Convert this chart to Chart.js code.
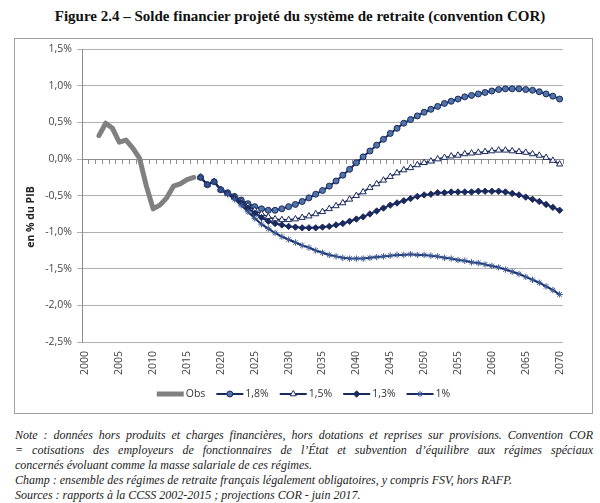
<!DOCTYPE html>
<html><head><meta charset="utf-8">
<script src="https://cdn.jsdelivr.net/npm/chart.js@4/dist/chart.umd.min.js"></script>
<style>
html,body{margin:0;padding:0;background:#fff;}
body{width:600px;height:503px;position:relative;overflow:hidden;}
#title{position:absolute;left:0;top:8px;width:600px;text-align:center;font:bold 15px "Liberation Serif","DejaVu Serif",serif;color:#111;}
#frame{position:absolute;left:14px;top:38px;width:579px;height:376px;border:1px solid #a0a0a0;box-sizing:border-box;}
#wrap{position:absolute;left:14px;top:38px;width:579px;height:376px;}
#notes{position:absolute;left:15px;top:428px;width:578px;font:italic 12px "Liberation Serif",serif;color:#222;line-height:15px;}
.j{text-align:justify;text-align-last:justify;white-space:nowrap;}
</style></head>
<body>
<div id="title">Figure 2.4 – Solde financier projeté du système de retraite (convention COR)</div>
<div id="frame"></div>
<div id="wrap"><canvas id="c" width="579" height="376"></canvas></div>
<div id="notes">
<div class="j" style="white-space:normal">Note : données hors produits et charges financières, hors dotations et reprises sur provisions. Convention COR</div>
<div class="j" style="white-space:normal">= cotisations des employeurs de fonctionnaires de l’État et subvention d’équilibre aux régimes spéciaux</div>
<div>concernés évoluant comme la masse salariale de ces régimes.</div>
<div>Champ : ensemble des régimes de retraite français légalement obligatoires, y compris FSV, hors RAFP.</div>
<div>Sources : rapports à la CCSS 2002-2015 ; projections COR - juin 2017.</div>
</div>
<script>
const years = [2000,2001,2002,2003,2004,2005,2006,2007,2008,2009,2010,2011,2012,2013,2014,2015,2016,2017,2018,2019,2020,
  2021,2022,2023,2024,2025,2026,2027,2028,2029,2030,2031,2032,2033,2034,2035,2036,2037,2038,2039,2040,
  2041,2042,2043,2044,2045,2046,2047,2048,2049,2050,2051,2052,2053,2054,2055,2056,2057,2058,2059,2060,
  2061,2062,2063,2064,2065,2066,2067,2068,2069,2070];
const xTickYears = [2000,2005,2010,2015,2020,2025,2030,2035,2040,2045,2050,2055,2060,2065,2070];
const yTickValues = [-2.5,-2.0,-1.5,-1.0,-0.5,0.0,0.5,1.0,1.5];

// Observed balance, 2002-2016 (% of GDP)
const obsStart = 2002;
const obs = [0.32,0.49,0.42,0.23,0.26,0.15,0.01,-0.37,-0.68,-0.63,-0.53,-0.37,-0.34,-0.28,-0.25];

// Projections, 2017-2070 (% of GDP)
const projStart = 2017;
const s18 = [-0.25,-0.35,-0.31,-0.42,-0.46,-0.51,-0.56,-0.61,-0.65,-0.68,-0.70,-0.70,-0.68,-0.65,-0.62,-0.58,-0.53,-0.48,-0.43,
  -0.37,-0.30,-0.22,-0.14,-0.05,0.03,0.11,0.19,0.27,0.35,0.42,0.49,0.54,0.59,0.64,0.68,0.72,0.76,0.79,0.82,
  0.85,0.87,0.89,0.91,0.93,0.95,0.96,0.96,0.96,0.95,0.94,0.92,0.89,0.86,0.82];
const s15 = [-0.25,-0.35,-0.31,-0.42,-0.47,-0.52,-0.58,-0.64,-0.70,-0.75,-0.79,-0.82,-0.83,-0.83,-0.82,-0.80,-0.78,-0.75,-0.72,
  -0.68,-0.64,-0.60,-0.55,-0.50,-0.45,-0.39,-0.34,-0.29,-0.24,-0.19,-0.15,-0.12,-0.08,-0.05,-0.03,0.00,0.02,0.04,0.05,
  0.07,0.08,0.09,0.10,0.11,0.12,0.12,0.11,0.10,0.09,0.07,0.05,0.02,-0.02,-0.07];
const s13 = [-0.25,-0.35,-0.31,-0.42,-0.47,-0.53,-0.60,-0.67,-0.74,-0.80,-0.85,-0.88,-0.90,-0.92,-0.93,-0.94,-0.94,-0.94,-0.93,
  -0.92,-0.90,-0.88,-0.85,-0.82,-0.79,-0.75,-0.71,-0.67,-0.63,-0.60,-0.57,-0.54,-0.51,-0.49,-0.48,-0.46,-0.46,-0.45,-0.45,
  -0.45,-0.45,-0.44,-0.44,-0.44,-0.44,-0.45,-0.47,-0.49,-0.52,-0.55,-0.58,-0.62,-0.66,-0.70];
const s10 = [-0.25,-0.35,-0.31,-0.42,-0.48,-0.55,-0.63,-0.72,-0.81,-0.89,-0.95,-1.01,-1.06,-1.10,-1.14,-1.18,-1.21,-1.25,-1.28,
  -1.31,-1.33,-1.35,-1.36,-1.36,-1.36,-1.35,-1.34,-1.33,-1.32,-1.31,-1.31,-1.30,-1.31,-1.31,-1.32,-1.33,-1.35,-1.36,-1.38,
  -1.39,-1.41,-1.42,-1.44,-1.46,-1.48,-1.51,-1.54,-1.57,-1.61,-1.65,-1.69,-1.74,-1.79,-1.85];

const seriesNames = ['Obs','1,8%','1,5%','1,3%','1%'];

function place(start, vals){
  return years.map(y => { const i = y - start; return (i >= 0 && i < vals.length) ? vals[i] : null; });
}
const NAVY = '#1b2a5e';
const fmt = v => (Math.round(v*10)/10).toFixed(1).replace('.', ',') + '%';
const labFont = {family:'"Open Sans","Liberation Sans",sans-serif', size:10.5};

const datasets = [
  {label:seriesNames[0], data:place(obsStart, obs), borderColor:'#808080', backgroundColor:'#808080', borderWidth:5,
   pointRadius:0, borderJoinStyle:'round', borderCapStyle:'round', order:5},
  {label:seriesNames[1], data:place(projStart, s18), borderColor:NAVY, backgroundColor:'#4f74a8', borderWidth:2,
   pointStyle:'circle', pointRadius:3, pointBorderWidth:1, pointBorderColor:NAVY, pointBackgroundColor:'#4f74a8', order:4},
  {label:seriesNames[2], data:place(projStart, s15), borderColor:NAVY, backgroundColor:'#ffffff', borderWidth:1.5,
   pointStyle:'triangle', pointRadius:3.6, pointBorderWidth:1, pointBorderColor:NAVY, pointBackgroundColor:'#ffffff', order:3},
  {label:seriesNames[3], data:place(projStart, s13), borderColor:NAVY, backgroundColor:NAVY, borderWidth:2,
   pointStyle:'rectRot', pointRadius:3.2, pointBorderWidth:1, pointBorderColor:NAVY, pointBackgroundColor:NAVY, order:2},
  {label:seriesNames[4], data:place(projStart, s10), borderColor:NAVY, backgroundColor:NAVY, borderWidth:2,
   pointStyle:'star', pointRadius:3.2, pointBorderWidth:1, pointBorderColor:'#3a5a9a', pointBackgroundColor:NAVY, order:1}
];

const legendPlugin = {
  id:'lineLegend',
  afterDraw(chart){
    const ctx = chart.ctx;
    ctx.save();
    ctx.font = '10.5px "Open Sans","Liberation Sans",sans-serif';
    const lineLen = 27, gapText = 2, gapItem = 11;
    const ds = chart.data.datasets;
    let total = 0;
    ds.forEach((d,i) => { total += lineLen + gapText + ctx.measureText(d.label).width + (i < ds.length-1 ? gapItem : 0); });
    let x = chart.width/2 - total/2;
    const y = 356;
    ds.forEach((d,i) => {
      ctx.strokeStyle = d.borderColor;
      ctx.lineWidth = i === 0 ? 5 : 2;
      ctx.lineCap = 'butt';
      ctx.beginPath(); ctx.moveTo(x, y); ctx.lineTo(x+lineLen, y); ctx.stroke();
      if (i > 0) {
        ctx.fillStyle = d.pointBackgroundColor; ctx.strokeStyle = d.pointBorderColor; ctx.lineWidth = 1;
        Chart.helpers.drawPoint(ctx, {pointStyle:d.pointStyle, radius:d.pointRadius, borderWidth:1, rotation:0}, x+lineLen/2, y);
      }
      x += lineLen + gapText;
      ctx.fillStyle = '#333'; ctx.textBaseline = 'middle'; ctx.textAlign = 'left';
      ctx.fillText(d.label, x, y);
      x += ctx.measureText(d.label).width + gapItem;
    });
    // y-axis title
    ctx.translate(17, 179);
    ctx.rotate(-Math.PI/2);
    ctx.font = 'bold 10.5px "Open Sans","Liberation Sans",sans-serif';
    ctx.textAlign = 'center'; ctx.textBaseline = 'middle'; ctx.fillStyle = '#222';
    ctx.fillText('en % du PIB', 0, 0);
    ctx.restore();
  }
};

new Chart(document.getElementById('c'), {
  type:'line',
  data:{labels:years.map(String), datasets},
  options:{
    responsive:false, animation:false, devicePixelRatioo:1,
    layout:{padding:{left:0, top:9, right:30, bottom:32}},
    plugins:{legend:{display:false}, tooltip:{enabled:false}, title:{display:false}},
    elements:{line:{tension:0}},
    scales:{
      x:{type:'category', offset:true, grid:{display:false, drawTicks:false}, border:{display:false},
         ticks:{autoSkip:false, minRotation:90, maxRotation:90, padding:9, color:'#444', font:labFont,
                callback:(v,i) => xTickYears.includes(years[i]) ? String(years[i]) : ''},
         afterFit:s => { s.height = 40; }},
      x2:{type:'category', position:{y:0}, offset:true,
          grid:{offset:true, drawOnChartArea:false, drawTicks:true, tickLength:4, color:'#8c8c8c'},
          border:{display:true, color:'#8c8c8c'}, ticks:{display:false}},
      y:{min:-2.5, max:1.5,
         afterBuildTicks:s => { s.ticks = yTickValues.map(v => ({value:v})); },
         ticks:{color:'#444', font:labFont, padding:5, callback:v => fmt(v)},
         grid:{color:'#b0b0b0', tickLength:5, drawTicks:true},
         border:{display:true, color:'#8c8c8c'},
         afterFit:s => { s.width = 68; }}
    }
  },
  plugins:[legendPlugin]
});
</script>
</body></html>
